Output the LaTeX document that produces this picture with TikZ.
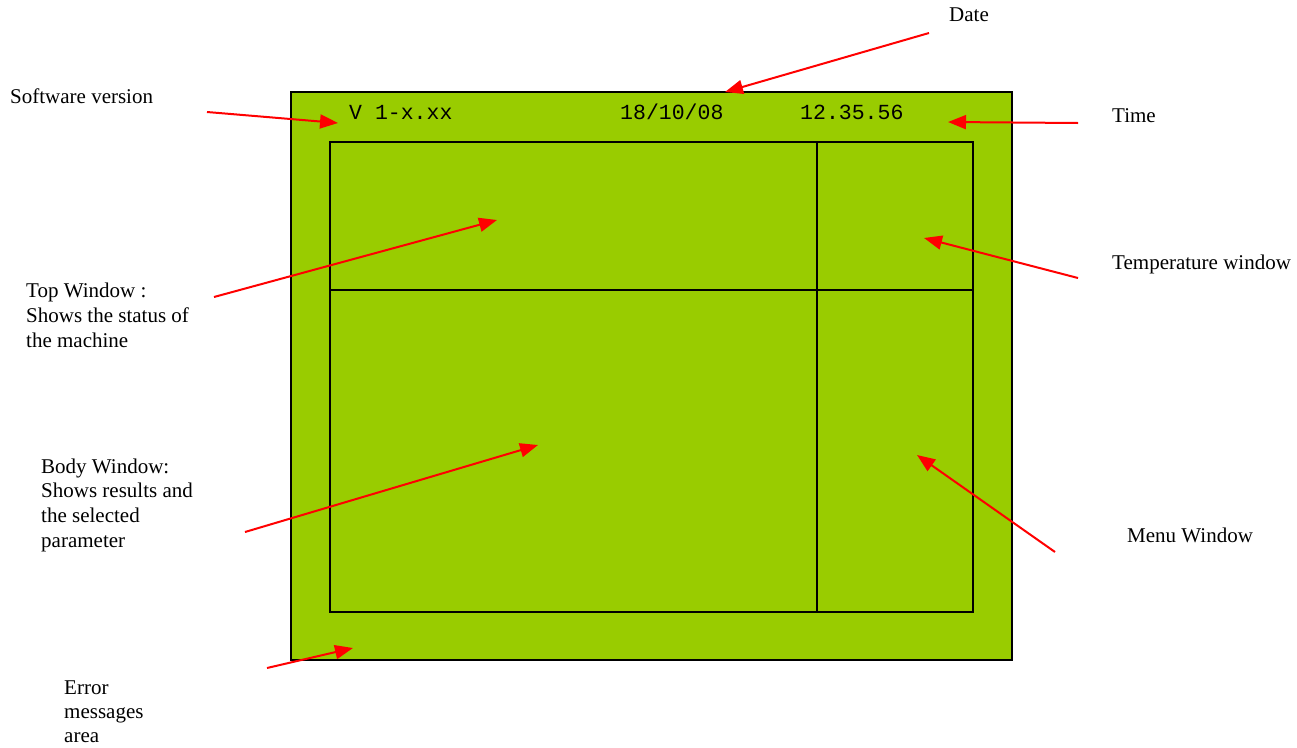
\documentclass[tikz,border=0pt]{standalone}
\usepackage{fontspec}
\setmainfont{Liberation Serif}
\setmonofont{Liberation Mono}
\usetikzlibrary{arrows.meta}
\definecolor{lcdgreen}{RGB}{153,204,0}
\tikzset{
	pointer/.style={draw=red, line width=2pt, -{Triangle[length=18pt,width=14pt]}},
	notetext/.style={anchor=base west, inner sep=0pt, align=left, font=\fontsize{21}{24.6}\selectfont},
	lcdtext/.style={anchor=base west, inner sep=0pt, font=\ttfamily\fontsize{21.5}{24}\selectfont},
	frame/.style={draw=black, line width=2pt}
}
\begin{document}
\begin{tikzpicture}[x=1pt,y=-1pt]
	\useasboundingbox (0,0) rectangle (1297,747);
	% the display
	\draw[frame, fill=lcdgreen] (291,92) rectangle (1012,660);
	\draw[frame] (330,142) rectangle (973,612);
	\draw[frame] (817,142) -- (817,612);
	\draw[frame] (330,290) -- (973,290);
	% header line of the display
	\node[lcdtext] (version) at (349,119) {V 1-x.xx};
	\node[lcdtext] (date) at (620,119) {18/10/08};
	\node[lcdtext] (time) at (800,119) {12.35.56};
	% captions (multi-line ones sit on their last line)
	\node[notetext] (datelbl) at (949,21) {Date};
	\node[notetext] (swlbl) at (10,103) {Software version};
	\node[notetext] (timelbl) at (1112,122) {Time};
	\node[notetext] (templbl) at (1112,269) {Temperature window};
	\node[notetext] (toplbl) at (26,347) {Top Window :\\Shows the status of\\the machine};
	\node[notetext] (bodylbl) at (41,547) {Body Window:\\Shows results and\\the selected\\parameter};
	\node[notetext] (menulbl) at (1127,542) {Menu Window};
	\node[notetext, font=\fontsize{21}{24}\selectfont] (errlbl) at (64,742) {Error\\messages\\area};
	% arrow ends
	\coordinate (sw-a) at (207,112);   \coordinate (sw-b) at (338,123);
	\coordinate (date-a) at (929,33);  \coordinate (date-b) at (725,92);
	\coordinate (time-a) at (1078,123);\coordinate (time-b) at (948,122);
	\coordinate (top-a) at (214,297);  \coordinate (top-b) at (497,220);
	\coordinate (temp-a) at (1078,278);\coordinate (temp-b) at (924,238);
	\coordinate (body-a) at (245,532); \coordinate (body-b) at (538,445);
	\coordinate (menu-a) at (1055,552);\coordinate (menu-b) at (917,455);
	\coordinate (err-a) at (267,668);  \coordinate (err-b) at (353,648);
	\foreach \p in {sw,date,time,top,temp,body,menu,err}
		\draw[pointer] (\p-a) -- (\p-b);
\end{tikzpicture}
\end{document}
